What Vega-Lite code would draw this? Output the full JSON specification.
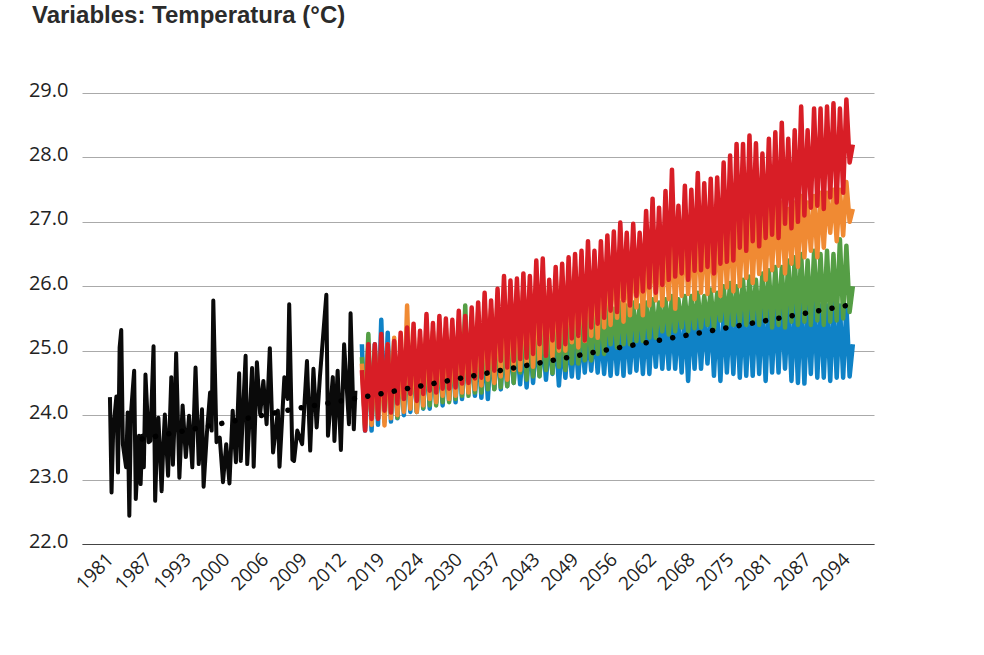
{
  "$schema": "https://vega.github.io/schema/vega-lite/v6.json",
  "width": 792,
  "height": 451,
  "autosize": {"type": "none"},
  "padding": {"left": 82, "top": 93, "right": 110, "bottom": 111},
  "background": "white",
  "title": {"text": "Variables: Temperatura (°C)", "anchor": "start", "frame": "group", "dx": -50, "offset": 52, "font": "Liberation Sans", "fontSize": 24, "fontWeight": "bold", "color": "#2b2b2b"},
  "view": {"stroke": null},
  "datasets": {
    "trend": [
      {"n": 20, "v": 23.63}, {"n": 73, "v": 23.89}, {"n": 115, "v": 24.1}, {"n": 157, "v": 24.28}, {"n": 231, "v": 24.64},
      {"n": 305, "v": 25.0}, {"n": 381, "v": 25.35}, {"n": 456, "v": 25.7}
    ],
    "hist": [
      {"n":0,"v":24.28},{"n":1,"v":22.8},{"n":2,"v":23.76},{"n":4,"v":24.29},{"n":5,"v":23.11},{"n":6,"v":25.05},{"n":7,"v":25.32},{"n":8,"v":23.55},{"n":10,"v":23.19},{"n":11,"v":24.04},
      {"n":12,"v":22.44},{"n":13,"v":24.02},{"n":15,"v":24.69},{"n":16,"v":22.7},{"n":18,"v":23.68},{"n":19,"v":22.93},{"n":20,"v":23.68},{"n":21,"v":23.19},{"n":22,"v":24.63},{"n":24,"v":23.58},
      {"n":25,"v":23.6},{"n":27,"v":25.07},{"n":28,"v":22.67},{"n":29,"v":23.5},{"n":30,"v":23.96},{"n":32,"v":22.82},{"n":33,"v":23.5},{"n":34,"v":24.01},{"n":36,"v":23.06},{"n":38,"v":24.59},
      {"n":39,"v":23.23},{"n":40,"v":23.91},{"n":41,"v":24.96},{"n":43,"v":23.03},{"n":45,"v":24.15},{"n":47,"v":23.35},{"n":49,"v":23.99},{"n":51,"v":23.19},{"n":53,"v":24.74},{"n":55,"v":23.24},
      {"n":57,"v":24.09},{"n":58,"v":22.89},{"n":60,"v":23.71},{"n":62,"v":24.35},{"n":63,"v":23.76},{"n":64,"v":25.78},{"n":66,"v":23.58},{"n":68,"v":23.65},{"n":70,"v":22.96},{"n":72,"v":23.55},
      {"n":74,"v":22.94},{"n":76,"v":24.07},{"n":78,"v":23.27},{"n":80,"v":24.65},{"n":81,"v":23.29},{"n":84,"v":24.92},{"n":85,"v":23.24},{"n":88,"v":24.73},{"n":89,"v":23.2},{"n":91,"v":24.82},
      {"n":93,"v":24.02},{"n":95,"v":24.53},{"n":97,"v":23.86},{"n":99,"v":25.04},{"n":101,"v":23.42},{"n":104,"v":24.07},{"n":105,"v":23.2},{"n":108,"v":24.59},{"n":110,"v":24.25},{"n":111,"v":25.72},
      {"n":113,"v":23.31},{"n":114,"v":23.29},{"n":116,"v":23.76},{"n":119,"v":23.55},{"n":122,"v":24.84},{"n":124,"v":23.45},{"n":126,"v":24.72},{"n":128,"v":23.81},{"n":130,"v":24.59},{"n":134,"v":25.87},
      {"n":135,"v":23.68},{"n":138,"v":24.59},{"n":139,"v":23.6},{"n":141,"v":24.69},{"n":143,"v":23.46},{"n":145,"v":25.1},{"n":148,"v":23.86},{"n":149,"v":25.58},{"n":151,"v":23.78},{"n":152,"v":24.38}
    ],
    "future": [
      {"n":156,"blue":25.1,"green":24.9,"orange":24.8,"red":24.7},
      {"n":158,"blue":23.76,"green":23.85,"orange":23.8,"red":23.76},{"n":160,"blue":25.1,"green":25.26,"orange":25.0,"red":25.1},
      {"n":162,"blue":23.76,"green":23.9,"orange":23.85,"red":23.94},{"n":164,"blue":25.1,"green":25.0,"orange":25.0,"red":25.1},
      {"n":166,"blue":23.85,"green":23.95,"orange":23.95,"red":23.94},{"n":168,"blue":25.48,"green":25.0,"orange":25.05,"red":25.26},
      {"n":170,"blue":23.9,"green":23.95,"orange":23.84,"red":24.07},{"n":172,"blue":25.28,"green":25.05,"orange":25.1,"red":25.1},
      {"n":174,"blue":23.9,"green":24.0,"orange":23.95,"red":24.04},{"n":176,"blue":25.0,"green":25.15,"orange":25.2,"red":25.15},
      {"n":178,"blue":23.95,"green":23.96,"orange":24.0,"red":24.18},{"n":180,"blue":25.0,"green":25.0,"orange":25.1,"red":25.28},
      {"n":182,"blue":24.0,"green":24.07,"orange":24.05,"red":24.25},{"n":184,"blue":25.0,"green":25.15,"orange":25.7,"red":25.36},
      {"n":186,"blue":24.05,"green":24.1,"orange":24.1,"red":24.33},{"n":188,"blue":25.05,"green":25.1,"orange":25.3,"red":25.42},
      {"n":190,"blue":24.05,"green":24.05,"orange":24.05,"red":24.22},{"n":192,"blue":25.0,"green":25.1,"orange":25.2,"red":25.31},
      {"n":194,"blue":24.1,"green":24.11,"orange":24.15,"red":24.33},{"n":196,"blue":25.05,"green":25.2,"orange":25.4,"red":25.57},
      {"n":198,"blue":24.1,"green":24.15,"orange":24.25,"red":24.38},{"n":200,"blue":25.0,"green":25.15,"orange":25.3,"red":25.43},
      {"n":202,"blue":24.19,"green":24.15,"orange":24.2,"red":24.35},{"n":204,"blue":25.0,"green":25.2,"orange":25.35,"red":25.54},
      {"n":206,"blue":24.15,"green":24.2,"orange":24.3,"red":24.41},{"n":208,"blue":25.05,"green":25.2,"orange":25.35,"red":25.5},
      {"n":210,"blue":24.22,"green":24.2,"orange":24.25,"red":24.41},{"n":212,"blue":25.05,"green":25.2,"orange":25.3,"red":25.48},
      {"n":214,"blue":24.2,"green":24.25,"orange":24.3,"red":24.43},{"n":216,"blue":25.05,"green":25.25,"orange":25.45,"red":25.62},
      {"n":218,"blue":24.25,"green":24.3,"orange":24.35,"red":24.49},{"n":220,"blue":25.1,"green":25.7,"orange":25.4,"red":25.54},
      {"n":222,"blue":24.35,"green":24.3,"orange":24.35,"red":24.5},{"n":224,"blue":25.1,"green":25.35,"orange":25.5,"red":25.67},
      {"n":226,"blue":24.3,"green":24.35,"orange":24.4,"red":24.57},{"n":228,"blue":25.1,"green":25.4,"orange":25.6,"red":25.75},
      {"n":230,"blue":24.27,"green":24.35,"orange":24.46,"red":24.58},{"n":232,"blue":25.1,"green":25.4,"orange":25.7,"red":25.9},
      {"n":234,"blue":24.25,"green":24.4,"orange":24.55,"red":24.69},{"n":236,"blue":25.1,"green":25.4,"orange":25.65,"red":25.78},
      {"n":238,"blue":24.41,"green":24.4,"orange":24.5,"red":24.69},{"n":240,"blue":25.15,"green":25.45,"orange":25.8,"red":25.96},
      {"n":242,"blue":24.4,"green":24.43,"orange":24.6,"red":24.84},{"n":244,"blue":25.1,"green":25.5,"orange":26.0,"red":26.16},
      {"n":246,"blue":24.45,"green":24.45,"orange":24.55,"red":24.74},{"n":248,"blue":25.15,"green":25.5,"orange":25.9,"red":26.09},
      {"n":250,"blue":24.5,"green":24.5,"orange":24.7,"red":24.84},{"n":252,"blue":25.15,"green":25.5,"orange":25.95,"red":26.12},
      {"n":254,"blue":24.48,"green":24.66,"orange":24.7,"red":24.87},{"n":256,"blue":25.15,"green":25.55,"orange":26.0,"red":26.2},
      {"n":258,"blue":24.43,"green":24.55,"orange":24.8,"red":24.89},{"n":260,"blue":25.2,"green":25.5,"orange":26.0,"red":26.16},
      {"n":262,"blue":24.5,"green":24.6,"orange":24.75,"red":24.95},{"n":264,"blue":25.2,"green":25.6,"orange":26.1,"red":26.4},
      {"n":266,"blue":24.61,"green":24.6,"orange":24.85,"red":25.1},{"n":268,"blue":25.2,"green":25.6,"orange":26.2,"red":26.43},
      {"n":270,"blue":24.55,"green":24.7,"orange":24.95,"red":24.92},{"n":272,"blue":25.2,"green":25.55,"orange":26.0,"red":26.1},
      {"n":274,"blue":24.64,"green":24.65,"orange":24.9,"red":25.16},{"n":276,"blue":25.25,"green":25.6,"orange":26.15,"red":26.3},
      {"n":278,"blue":24.46,"green":24.75,"orange":25.0,"red":25.05},{"n":280,"blue":25.2,"green":25.6,"orange":26.15,"red":26.35},
      {"n":282,"blue":24.58,"green":24.7,"orange":25.0,"red":25.1},{"n":284,"blue":25.25,"green":25.65,"orange":26.25,"red":26.45},
      {"n":286,"blue":24.6,"green":24.8,"orange":25.13,"red":25.19},{"n":288,"blue":25.25,"green":25.65,"orange":26.3,"red":26.5},
      {"n":290,"blue":24.58,"green":24.8,"orange":25.05,"red":25.23},{"n":292,"blue":25.3,"green":25.6,"orange":26.3,"red":26.55},
      {"n":294,"blue":24.66,"green":24.85,"orange":25.15,"red":25.16},{"n":296,"blue":25.3,"green":25.7,"orange":26.45,"red":26.7},
      {"n":298,"blue":24.69,"green":24.85,"orange":25.23,"red":25.36},{"n":300,"blue":25.35,"green":25.65,"orange":26.35,"red":26.55},
      {"n":302,"blue":24.66,"green":24.95,"orange":25.2,"red":25.42},{"n":304,"blue":25.3,"green":25.7,"orange":26.45,"red":26.7},
      {"n":306,"blue":24.64,"green":24.95,"orange":25.36,"red":25.51},{"n":308,"blue":25.35,"green":25.7,"orange":26.5,"red":26.79},
      {"n":310,"blue":24.61,"green":25.1,"orange":25.4,"red":25.62},{"n":312,"blue":25.4,"green":25.65,"orange":26.55,"red":26.85},
      {"n":314,"blue":24.64,"green":25.05,"orange":25.51,"red":25.6},{"n":316,"blue":25.4,"green":25.75,"orange":26.6,"red":26.99},
      {"n":318,"blue":24.61,"green":25.1,"orange":25.45,"red":25.78},{"n":320,"blue":25.45,"green":25.7,"orange":26.5,"red":26.83},
      {"n":322,"blue":24.66,"green":25.1,"orange":25.55,"red":25.7},{"n":324,"blue":25.4,"green":25.75,"orange":26.6,"red":26.97},
      {"n":326,"blue":24.69,"green":25.15,"orange":25.67,"red":25.85},{"n":328,"blue":25.45,"green":25.7,"orange":26.55,"red":26.83},
      {"n":330,"blue":24.64,"green":25.15,"orange":25.55,"red":25.92},{"n":332,"blue":25.45,"green":25.75,"orange":26.7,"red":27.17},
      {"n":334,"blue":24.64,"green":25.2,"orange":25.7,"red":25.98},{"n":336,"blue":25.5,"green":25.8,"orange":26.8,"red":27.36},
      {"n":338,"blue":24.75,"green":25.2,"orange":25.78,"red":25.9},{"n":340,"blue":25.5,"green":25.75,"orange":26.7,"red":27.22},
      {"n":342,"blue":24.72,"green":25.3,"orange":25.7,"red":26.02},{"n":344,"blue":25.5,"green":25.8,"orange":26.75,"red":27.48},
      {"n":346,"blue":24.72,"green":25.25,"orange":25.8,"red":26.1},{"n":348,"blue":25.55,"green":25.85,"orange":26.85,"red":27.81},
      {"n":350,"blue":24.72,"green":25.3,"orange":25.65,"red":26.15},{"n":352,"blue":25.5,"green":25.8,"orange":26.7,"red":27.25},
      {"n":354,"blue":24.66,"green":25.36,"orange":25.85,"red":26.2},{"n":356,"blue":25.55,"green":25.85,"orange":26.9,"red":27.56},
      {"n":358,"blue":24.53,"green":25.3,"orange":25.88,"red":26.1},{"n":360,"blue":25.6,"green":25.85,"orange":26.85,"red":27.5},
      {"n":362,"blue":24.72,"green":25.35,"orange":25.8,"red":26.24},{"n":364,"blue":25.6,"green":25.9,"orange":27.0,"red":27.76},
      {"n":366,"blue":24.72,"green":25.36,"orange":25.9,"red":26.25},{"n":368,"blue":25.55,"green":25.85,"orange":26.9,"red":27.6},
      {"n":370,"blue":24.8,"green":25.4,"orange":25.88,"red":26.3},{"n":372,"blue":25.6,"green":25.95,"orange":26.95,"red":27.67},
      {"n":374,"blue":24.61,"green":25.35,"orange":25.93,"red":26.2},{"n":376,"blue":25.6,"green":25.9,"orange":27.0,"red":27.69},
      {"n":378,"blue":24.53,"green":25.47,"orange":25.85,"red":26.35},{"n":380,"blue":25.65,"green":26.0,"orange":27.05,"red":27.92},
      {"n":382,"blue":24.66,"green":25.4,"orange":25.98,"red":26.38},{"n":384,"blue":25.6,"green":26.05,"orange":27.1,"red":28.03},
      {"n":386,"blue":24.64,"green":25.4,"orange":25.92,"red":26.4},{"n":388,"blue":25.7,"green":26.0,"orange":27.15,"red":28.21},
      {"n":390,"blue":24.58,"green":25.45,"orange":26.0,"red":26.6},{"n":392,"blue":25.65,"green":26.1,"orange":27.1,"red":28.21},
      {"n":394,"blue":24.61,"green":25.4,"orange":26.13,"red":26.55},{"n":396,"blue":25.7,"green":26.15,"orange":27.2,"red":28.34},
      {"n":398,"blue":24.61,"green":25.45,"orange":26.05,"red":26.7},{"n":400,"blue":25.7,"green":26.1,"orange":27.15,"red":28.22},
      {"n":402,"blue":24.64,"green":25.4,"orange":26.19,"red":26.62},{"n":404,"blue":25.7,"green":26.2,"orange":27.1,"red":28.06},
      {"n":406,"blue":24.53,"green":25.45,"orange":26.1,"red":26.75},{"n":408,"blue":25.75,"green":26.25,"orange":27.2,"red":28.29},
      {"n":410,"blue":24.66,"green":25.36,"orange":26.25,"red":26.8},{"n":412,"blue":25.7,"green":26.3,"orange":27.25,"red":28.39},
      {"n":414,"blue":24.66,"green":25.4,"orange":26.32,"red":26.75},{"n":416,"blue":25.75,"green":26.3,"orange":27.3,"red":28.54},
      {"n":418,"blue":24.72,"green":25.36,"orange":26.2,"red":26.97},{"n":420,"blue":25.7,"green":26.4,"orange":27.2,"red":28.29},
      {"n":422,"blue":24.53,"green":25.45,"orange":26.35,"red":26.9},{"n":424,"blue":25.75,"green":26.45,"orange":27.3,"red":28.42},
      {"n":426,"blue":24.5,"green":25.4,"orange":26.3,"red":27.0},{"n":428,"blue":25.8,"green":26.5,"orange":27.4,"red":28.79},
      {"n":430,"blue":24.49,"green":25.45,"orange":26.45,"red":27.1},{"n":432,"blue":25.7,"green":26.4,"orange":27.3,"red":28.42},
      {"n":434,"blue":24.64,"green":25.4,"orange":26.55,"red":27.22},{"n":436,"blue":25.78,"green":26.55,"orange":27.4,"red":28.76},
      {"n":438,"blue":24.58,"green":25.47,"orange":26.45,"red":27.25},{"n":440,"blue":25.7,"green":26.5,"orange":27.45,"red":28.76},
      {"n":442,"blue":24.58,"green":25.4,"orange":26.6,"red":27.2},{"n":444,"blue":25.7,"green":26.55,"orange":27.45,"red":28.79},
      {"n":446,"blue":24.53,"green":25.45,"orange":26.83,"red":27.38},{"n":448,"blue":25.75,"green":26.5,"orange":27.5,"red":28.84},
      {"n":450,"blue":24.58,"green":25.47,"orange":26.7,"red":27.3},{"n":452,"blue":25.7,"green":26.73,"orange":27.5,"red":28.76},
      {"n":454,"blue":24.58,"green":25.5,"orange":26.79,"red":27.45},{"n":456,"blue":25.7,"green":26.63,"orange":27.62,"red":28.9},
      {"n":458,"blue":24.6,"green":25.6,"orange":27.0,"red":27.92},{"n":460,"blue":25.1,"green":26.0,"orange":27.2,"red":28.2}
    ]
  },
  "encoding": {
    "x": {
      "field": "n",
      "type": "quantitative",
      "title": null,
      "scale": {"domain": [-17.3, 473.1], "nice": false, "zero": false},
      "axis": {
        "values": [0,24,48,72,96,120,144,168,192,216,240,264,288,312,336,360,384,408,432,456],
        "labelExpr": "['1981','1987','1993','2000','2006','2009','2012','2019','2024','2030','2037','2043','2049','2056','2062','2068','2075','2081','2087','2094'][datum.value / 24]",
        "labelAngle": -45,
        "labelAlign": "right",
        "labelBaseline": "middle",
        "labelFont": "Open Sans",
        "labelFontSize": 19,
        "labelColor": "#222222",
        "labelPadding": 12,
        "labelOverlap": false,
        "labelBound": false,
        "labelFlush": false,
        "ticks": false,
        "grid": false,
        "domainColor": "#444444",
        "domainWidth": 1.2
      }
    }
  },
  "layer": [
    {
      "data": {"name": "hist"},
      "mark": {"type": "line", "color": "#0a0a0a", "strokeWidth": 4, "strokeJoin": "round", "clip": true},
      "encoding": {
        "y": {
          "field": "v",
          "type": "quantitative",
          "title": null,
          "scale": {"domain": [22, 29], "nice": false, "zero": false},
          "axis": {
            "values": [22,23,24,25,26,27,28,29],
            "labelFont": "Open Sans",
            "labelFontSize": 20,
            "labelColor": "#222222",
            "labelPadding": 14,
            "labelOffset": -3,
            "ticks": false,
            "domain": false,
            "grid": true,
            "gridColor": "#aaaaaa",
            "gridWidth": 1
          }
        }
      }
    },
    {"data": {"name": "future"}, "mark": {"type": "line", "color": "#0f82c6", "strokeWidth": 4.5, "strokeJoin": "round"}, "encoding": {"y": {"field": "blue", "type": "quantitative"}}},
    {"data": {"name": "future"}, "mark": {"type": "line", "color": "#559e45", "strokeWidth": 4.5, "strokeJoin": "round"}, "encoding": {"y": {"field": "green", "type": "quantitative"}}},
    {"data": {"name": "future"}, "mark": {"type": "line", "color": "#f08a33", "strokeWidth": 4.5, "strokeJoin": "round"}, "encoding": {"y": {"field": "orange", "type": "quantitative"}}},
    {"data": {"name": "future"}, "mark": {"type": "line", "color": "#d81e26", "strokeWidth": 4.5, "strokeJoin": "round"}, "encoding": {"y": {"field": "red", "type": "quantitative"}}},
    {"data": {"name": "trend"}, "mark": {"type": "line", "color": "#000000", "strokeWidth": 5.5, "strokeCap": "round", "strokeDash": [0.1, 13.4]}, "encoding": {"y": {"field": "v", "type": "quantitative"}}}
  ]
}
